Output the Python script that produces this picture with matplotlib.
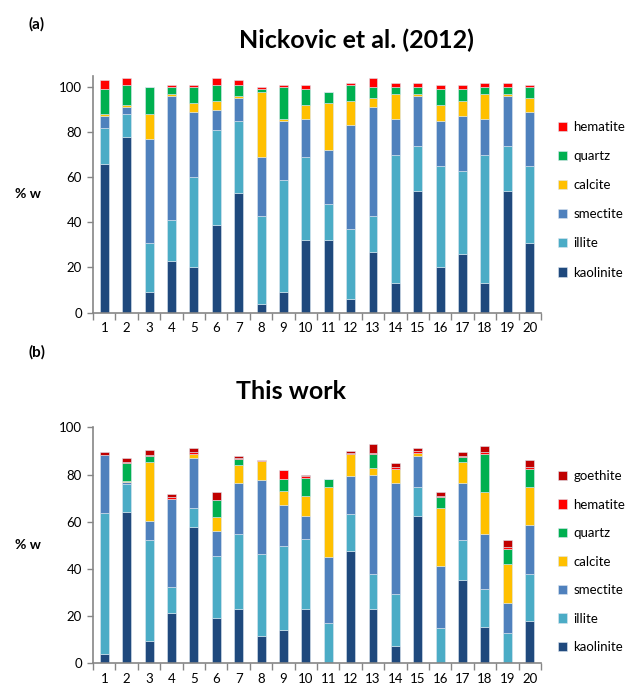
import numpy as np
import matplotlib.pyplot as plt

plt.rcParams['font.family'] = ['Lato', 'DejaVu Sans']

samples = [str(i) for i in range(1, 21)]

# (a) Nickovic et al. (2012), % w
nick_kaolinite = [66, 78, 9, 23, 20, 39, 53, 4, 9, 32, 32, 6, 27, 13, 54, 20, 26, 13, 54, 31]
nick_illite = [16, 10, 22, 18, 40, 42, 32, 39, 50, 37, 16, 31, 16, 57, 20, 45, 37, 57, 20, 34]
nick_smectite = [5, 3, 46, 55, 29, 9, 10, 26, 26, 17, 24, 46, 48, 16, 22, 20, 24, 16, 22, 24]
nick_calcite = [1, 1, 11, 1, 4, 4, 1, 29, 1, 6, 21, 11, 4, 11, 1, 7, 7, 11, 1, 6]
nick_quartz = [11, 9, 12, 3, 7, 7, 5, 1, 14, 7, 5, 7, 5, 3, 3, 7, 5, 3, 3, 5]
nick_hematite = [4, 3, 0, 1, 1, 3, 2, 1, 1, 2, 0, 1, 4, 2, 2, 2, 2, 2, 2, 1]

# (b) This work, % w
tw_kaolinite = [4.1, 64.1, 9.3, 21.5, 57.6, 19.3, 23.2, 11.4, 13.9, 23.2,
                0, 47.6, 23.2, 7.5, 62.5, 0, 35.5, 15.5, 0, 18.0]
tw_illite = [59.4, 11.7, 42.8, 11.0, 8.0, 26.1, 31.4, 34.8, 35.7, 29.3,
             16.9, 15.8, 14.8, 21.7, 12.3, 14.8, 16.9, 15.9, 12.7, 20.0]
tw_smectite = [24.6, 1.0, 8.0, 37.3, 21.3, 10.7, 21.7, 31.5, 17.4, 9.9,
               28.2, 15.9, 41.7, 47.1, 12.9, 26.3, 23.9, 23.5, 12.7, 20.6]
tw_calcite = [0, 0.5, 25.2, 0, 1.7, 6.0, 7.9, 8.1, 6.2, 8.4,
              29.7, 9.2, 3.1, 6.2, 1.5, 24.5, 9.1, 17.9, 16.6, 16.3]
tw_quartz = [0, 7.5, 2.4, 0, 0, 6.9, 2.4, 0, 5.1, 7.9,
             3.5, 0, 5.7, 0, 0, 4.8, 2.1, 15.7, 6.6, 7.5]
tw_hematite = [0.3, 0.5, 0.7, 0.5, 1.0, 0.4, 0.4, 0.3, 3.8, 0.6,
               0, 0.5, 0.8, 0.5, 0.7, 0.7, 0.5, 1.2, 0.6, 0.7]
tw_goethite = [1.0, 1.5, 2.0, 1.4, 1.5, 3.1, 1.0, 0, 0, 0.7,
               0, 1.1, 3.7, 1.8, 1.4, 1.3, 1.4, 2.3, 3.1, 3.1]

colors = {
    'kaolinite': '#1F497D',
    'illite': '#4BACC6',
    'smectite': '#4F81BD',
    'calcite': '#FFC000',
    'quartz': '#00B050',
    'hematite': '#FF0000',
    'goethite': '#C00000',
}

fig = plt.figure(figsize=(6.29, 6.90), dpi=100)
ax_a = fig.add_axes([0.148, 0.547, 0.712, 0.343])
ax_b = fig.add_axes([0.148, 0.0387, 0.712, 0.342])


def stacked(ax, series, ymax, legend_y, spacing):
    x = np.arange(len(samples))
    bottom = np.zeros(len(samples))
    handles = []
    for name, vals in series:
        vals = np.array(vals, dtype=float)
        b = ax.bar(x, vals, 0.4, bottom=bottom, color=colors[name],
                   edgecolor='#dce6f0', linewidth=0.4, label=name)
        handles.append(b)
        bottom += vals
    ax.set_xlim(-0.5, len(samples) - 0.5)
    ax.set_ylim(0, ymax)
    ax.set_yticks(range(0, 101, 20))
    ax.set_xticks(x)
    ax.set_xticklabels(samples)
    ax.set_xticks(np.arange(-0.5, len(samples)), minor=True)
    ax.tick_params(axis='x', which='major', length=0, pad=7, labelsize=9.5)
    ax.tick_params(axis='x', which='minor', length=5, color='#868686', width=1)
    ax.tick_params(axis='y', length=4, color='#868686', width=1, labelsize=9.5, pad=4)
    for s in ['top', 'right']:
        ax.spines[s].set_visible(False)
    for s in ['left', 'bottom']:
        ax.spines[s].set_color('#868686')
        ax.spines[s].set_linewidth(1.2)
    ax.set_ylabel('% w', rotation=0, fontweight='bold', fontsize=10,
                  labelpad=22, va='center')
    ax.legend(handles[::-1], [s[0] for s in series][::-1], loc='center left',
              bbox_to_anchor=(1.0, legend_y), frameon=False, fontsize=9.5,
              handlelength=0.7, handleheight=0.7, handletextpad=0.45,
              labelspacing=spacing, borderaxespad=0.9)


stacked(ax_a, [('kaolinite', nick_kaolinite), ('illite', nick_illite),
               ('smectite', nick_smectite), ('calcite', nick_calcite),
               ('quartz', nick_quartz), ('hematite', nick_hematite)], 105, 0.477, 1.3)
stacked(ax_b, [('kaolinite', tw_kaolinite), ('illite', tw_illite),
               ('smectite', tw_smectite), ('calcite', tw_calcite),
               ('quartz', tw_quartz), ('hematite', tw_hematite),
               ('goethite', tw_goethite)], 100, 0.431, 1.25)

fig.text(0.567, 0.941, 'Nickovic et al. (2012)', ha='center', va='center',
         fontsize=18, fontweight='bold')
fig.text(0.463, 0.433, 'This work', ha='center', va='center',
         fontsize=18, fontweight='bold')
fig.text(0.045, 0.965, '(a)', ha='left', va='center', fontsize=11, fontweight='bold')
fig.text(0.045, 0.49, '(b)', ha='left', va='center', fontsize=11, fontweight='bold')

fig.savefig('out.png', dpi=100)
